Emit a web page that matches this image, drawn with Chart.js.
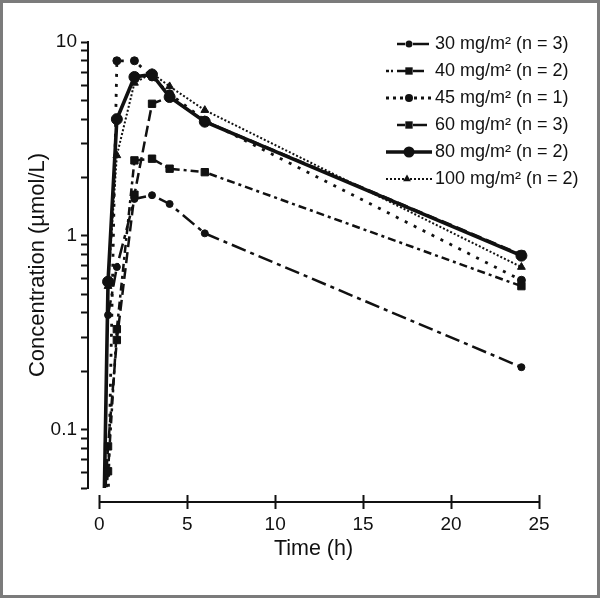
<!DOCTYPE html>
<html><head><meta charset="utf-8">
<script src="https://cdn.jsdelivr.net/npm/chart.js@4.4.1/dist/chart.umd.min.js"></script>
<style>
html,body{margin:0;padding:0;background:#fff;}
#frame{width:600px;height:598px;box-sizing:border-box;border:3px solid #7b7b7b;background:#fff;}
canvas{display:block;}
</style></head><body>
<div id="frame"><canvas id="c" width="594" height="592"></canvas></div>
<script>
// ---- data ----
const seriesLabels = ['30 mg/m² (n = 3)', '40 mg/m² (n = 2)', '45 mg/m² (n = 1)', '60 mg/m² (n = 3)', '80 mg/m² (n = 2)', '100 mg/m² (n = 2)'];
const time30 = [0.5, 1, 2, 3, 4, 6, 24];
const conc30 = [0.39, 0.69, 1.55, 1.62, 1.46, 1.03, 0.21];
const time40 = [0.25, 0.5, 1, 2, 3, 4, 6, 24];
const conc40 = [0.035, 0.061, 0.33, 2.45, 2.5, 2.22, 2.13, 0.55];
const time45 = [0.5, 1, 2, 3, 4, 6, 24];
const conc45 = [0.04, 8.0, 8.0, 6.6, 5.4, 3.95, 0.59];
const time60 = [0.25, 0.5, 1, 2, 3, 4, 6, 24];
const conc60 = [0.035, 0.082, 0.29, 1.63, 4.8, 5.2, 3.9, 0.80];
const time80 = [0.25, 0.5, 1, 2, 3, 4, 6, 24];
const conc80 = [0.03, 0.58, 4.0, 6.6, 6.8, 5.2, 3.88, 0.79];
const time100 = [0.5, 1, 2, 3, 4, 6, 24];
const conc100 = [0.55, 2.6, 6.15, 6.9, 5.9, 4.45, 0.69];
const xTickValues = [0, 5, 10, 15, 20, 25];
const yTickValues = [0.05, 0.06, 0.07, 0.08, 0.09, 0.1, 0.2, 0.3, 0.4, 0.5, 0.6, 0.7, 0.8, 0.9, 1, 2, 3, 4, 5, 6, 7, 8, 9, 10];
const yLabelValues = [0.1, 1, 10];
const xAxisTitle = 'Time (h)';
const yAxisTitle = 'Concentration (µmol/L)';

// ---- styles ----
const INK = '#111';
const FONT = 'Liberation Sans, Arial, Helvetica, sans-serif';
const styles = [
  {dash: [15, 5, 4, 5], lw: 2.5, ps: 'circle', r: 3.5},
  {dash: [8, 4, 3, 4], lw: 2.5, ps: 'rect', r: 5.2},
  {dash: [3, 7], lw: 2.8, ps: 'circle', r: 4},
  {dash: [11, 5], lw: 2.5, ps: 'rect', r: 5.2},
  {dash: [], lw: 3.6, ps: 'circle', r: 5.5},
  {dash: [2, 2], lw: 2, ps: 'triangle', r: 4.5}
];
const times = [time30, time40, time45, time60, time80, time100];
const concs = [conc30, conc40, conc45, conc60, conc80, conc100];

// legend glyphs (line sample + marker)
function marker(g, type, x, y, r) {
  g.beginPath();
  if (type === 'circle') g.arc(x, y, r, 0, Math.PI * 2);
  else if (type === 'rect') { const s = r * Math.SQRT1_2; g.rect(x - s, y - s, 2 * s, 2 * s); }
  else { g.moveTo(x, y - r); g.lineTo(x + r * 0.866, y + r * 0.5); g.lineTo(x - r * 0.866, y + r * 0.5); g.closePath(); }
  g.fill();
}
const glyphSpecs = [
  {segs: [[24, 32], [40, 56]], dash: null, mx: 36},
  {segs: [[13, 16], [18, 20], [24, 34], [40, 51]], dash: null, mx: 36},
  {segs: [[13, 31], [41, 60]], dash: [3, 4], mx: 36},
  {segs: [[24, 32], [40, 54]], dash: null, mx: 36},
  {segs: [[13, 59]], dash: null, mx: 36},
  {segs: [[13, 59]], dash: [2, 2], mx: 34}
];
function glyph(i) {
  const c = document.createElement('canvas');
  c.width = 60; c.height = 16;
  const g = c.getContext('2d');
  g.strokeStyle = INK; g.fillStyle = INK; g.lineWidth = styles[i].lw;
  glyphSpecs[i].segs.forEach(s => {
    g.beginPath(); g.setLineDash(glyphSpecs[i].dash || []);
    g.moveTo(s[0], 8); g.lineTo(s[1], 8); g.stroke();
  });
  g.setLineDash([]);
  marker(g, styles[i].ps, glyphSpecs[i].mx, 8, styles[i].r);
  return c;
}
const glyphs = seriesLabels.map((_, i) => glyph(i));

const datasets = seriesLabels.map((lab, i) => ({
  label: lab,
  data: times[i].map((t, k) => ({x: t, y: concs[i][k]})),
  borderColor: INK,
  backgroundColor: INK,
  borderWidth: styles[i].lw,
  borderDash: styles[i].dash,
  pointStyle: styles[i].ps,
  pointRadius: styles[i].r,
  pointBorderWidth: 1,
  pointBorderColor: INK,
  pointBackgroundColor: INK,
  tension: 0,
  fill: false
}));

const legendPlace = {
  id: 'legendPlace',
  afterLayout(chart) {
    const lg = chart.legend;
    if (!lg) return;
    lg.left = 368; lg.top = 23; lg.right = 594; lg.bottom = 592;
    lg.width = lg.right - lg.left; lg.height = lg.bottom - lg.top;
  }
};
const xAxisLine = {
  id: 'xAxisLine',
  afterDraw(chart) {
    const xs = chart.scales.x, ys = chart.scales.y, ctx = chart.ctx;
    const yLine = ys.getPixelForValue(yTickValues[0]) + 14;
    ctx.save();
    ctx.strokeStyle = INK; ctx.lineWidth = 2;
    ctx.beginPath();
    ctx.moveTo(xs.getPixelForValue(xTickValues[0]), yLine);
    ctx.lineTo(xs.getPixelForValue(xTickValues[xTickValues.length - 1]), yLine);
    ctx.stroke();
    ctx.restore();
  }
};

new Chart(document.getElementById('c'), {
  type: 'line',
  data: {datasets},
  plugins: [legendPlace, xAxisLine],
  options: {
    responsive: false,
    animation: false,
    devicePixelRatio: 1,
    layout: {padding: {left: 0, top: 39, right: 58, bottom: 0}},
    plugins: {
      tooltip: {enabled: false},
      legend: {
        position: 'chartArea',
        align: 'start',
        labels: {
          usePointStyle: true,
          pointStyleWidth: 46,
          padding: 9,
          color: INK,
          font: {family: FONT, size: 18},
          generateLabels: (chart) => seriesLabels.map((t, i) => ({
            text: t, pointStyle: glyphs[i], fillStyle: INK, strokeStyle: INK,
            lineWidth: 0, hidden: false, datasetIndex: i, fontColor: INK
          }))
        }
      }
    },
    scales: {
      x: {
        type: 'linear',
        min: -0.64, max: 25,
        afterBuildTicks: (s) => { s.ticks = xTickValues.map(v => ({value: v})); },
        afterFit: (s) => { s.height = 107; },
        border: {display: false},
        grid: {drawOnChartArea: false, drawTicks: true, tickLength: 21, tickWidth: 2, tickColor: INK,
               tickBorderDash: [14, 7], tickBorderDashOffset: 14},
        ticks: {color: INK, font: {family: FONT, size: 19}, padding: 4, autoSkip: false, maxRotation: 0},
        title: {display: true, text: xAxisTitle, color: INK, font: {family: FONT, size: 21.5}, padding: {top: 0, bottom: 33}}
      },
      y: {
        type: 'logarithmic',
        min: 0.05, max: 10,
        afterBuildTicks: (s) => { s.ticks = yTickValues.map(v => ({value: v})); },
        afterFit: (s) => { s.width = 85; },
        border: {display: true, color: INK, width: 2},
        grid: {drawOnChartArea: false, drawTicks: true, tickLength: 7, tickWidth: 2, tickColor: INK},
        ticks: {color: INK, font: {family: FONT, size: 19}, padding: 4, autoSkip: false,
                callback: (v) => yLabelValues.includes(v) ? String(v) : ''},
        title: {display: true, text: yAxisTitle, color: INK, font: {family: FONT, size: 22}, padding: {top: 22, bottom: 0}}
      }
    }
  }
});
</script>
</body></html>
